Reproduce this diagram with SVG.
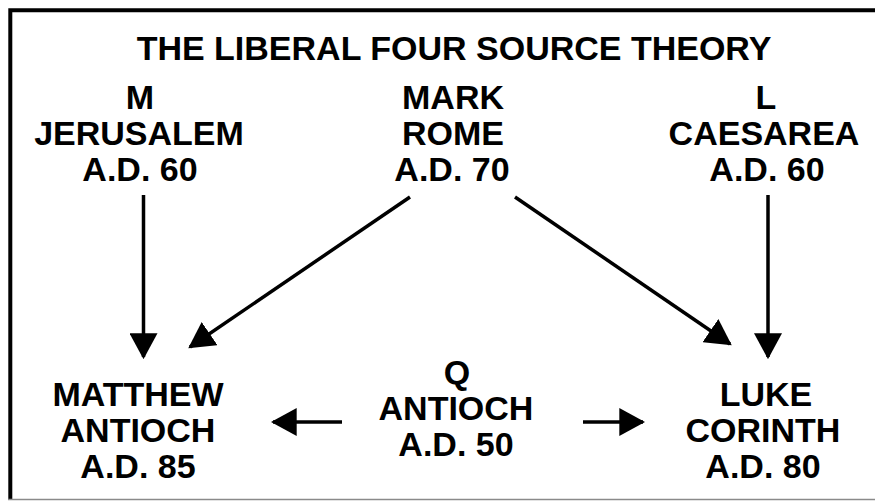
<svg xmlns="http://www.w3.org/2000/svg" width="875" height="501" viewBox="0 0 875 501">
<style>
text{font-family:"Liberation Sans",Arial,Helvetica,sans-serif;font-weight:bold;font-size:34px;fill:#000;text-anchor:middle}
.c{stroke:#000;stroke-width:3.5;fill:none}
</style>
<defs>
<marker id="ah" markerUnits="userSpaceOnUse" markerWidth="26" markerHeight="28" viewBox="0 0 24 26" refX="22" refY="13" orient="auto">
<path d="M0,0 L24,13 L0,26 Z" fill="#000"/>
</marker>
</defs>
<rect width="875" height="501" fill="#fff"/>
<g id="frame">
<path d="M10.3,499 V10.3 H875" stroke="#000" stroke-width="4" fill="none"/>
<line x1="8" y1="499.5" x2="875" y2="499.5" stroke="#8a8a8a" stroke-width="1.5"/>
</g>
<g id="title"><text x="454" y="60">THE LIBERAL FOUR SOURCE THEORY</text></g>
<g id="node-m"><text x="140" y="109">M</text><text x="139" y="145">JERUSALEM</text><text x="140" y="181">A.D. 60</text></g>
<g id="node-mark"><text x="453" y="109">MARK</text><text x="453" y="145">ROME</text><text x="452" y="181">A.D. 70</text></g>
<g id="node-l"><text x="766" y="109">L</text><text x="764" y="145">CAESAREA</text><text x="767" y="181">A.D. 60</text></g>
<g id="node-matthew"><text x="138" y="406">MATTHEW</text><text x="138" y="442">ANTIOCH</text><text x="138" y="478">A.D. 85</text></g>
<g id="node-q"><text x="457" y="384">Q</text><text x="456" y="420">ANTIOCH</text><text x="456" y="456">A.D. 50</text></g>
<g id="node-luke"><text x="766" y="406">LUKE</text><text x="763" y="442">CORINTH</text><text x="763" y="478">A.D. 80</text></g>
<g id="connectors">
<line class="c" x1="143.5" y1="195" x2="143.5" y2="357" marker-end="url(#ah)"/>
<line class="c" x1="410" y1="197" x2="190" y2="347" marker-end="url(#ah)"/>
<line class="c" x1="515" y1="197" x2="730" y2="344" marker-end="url(#ah)"/>
<line class="c" x1="768" y1="195" x2="768" y2="357" marker-end="url(#ah)"/>
<line class="c" x1="342" y1="422" x2="273" y2="422" marker-end="url(#ah)"/>
<line class="c" x1="583" y1="422" x2="643" y2="422" marker-end="url(#ah)"/>
</g>
</svg>
